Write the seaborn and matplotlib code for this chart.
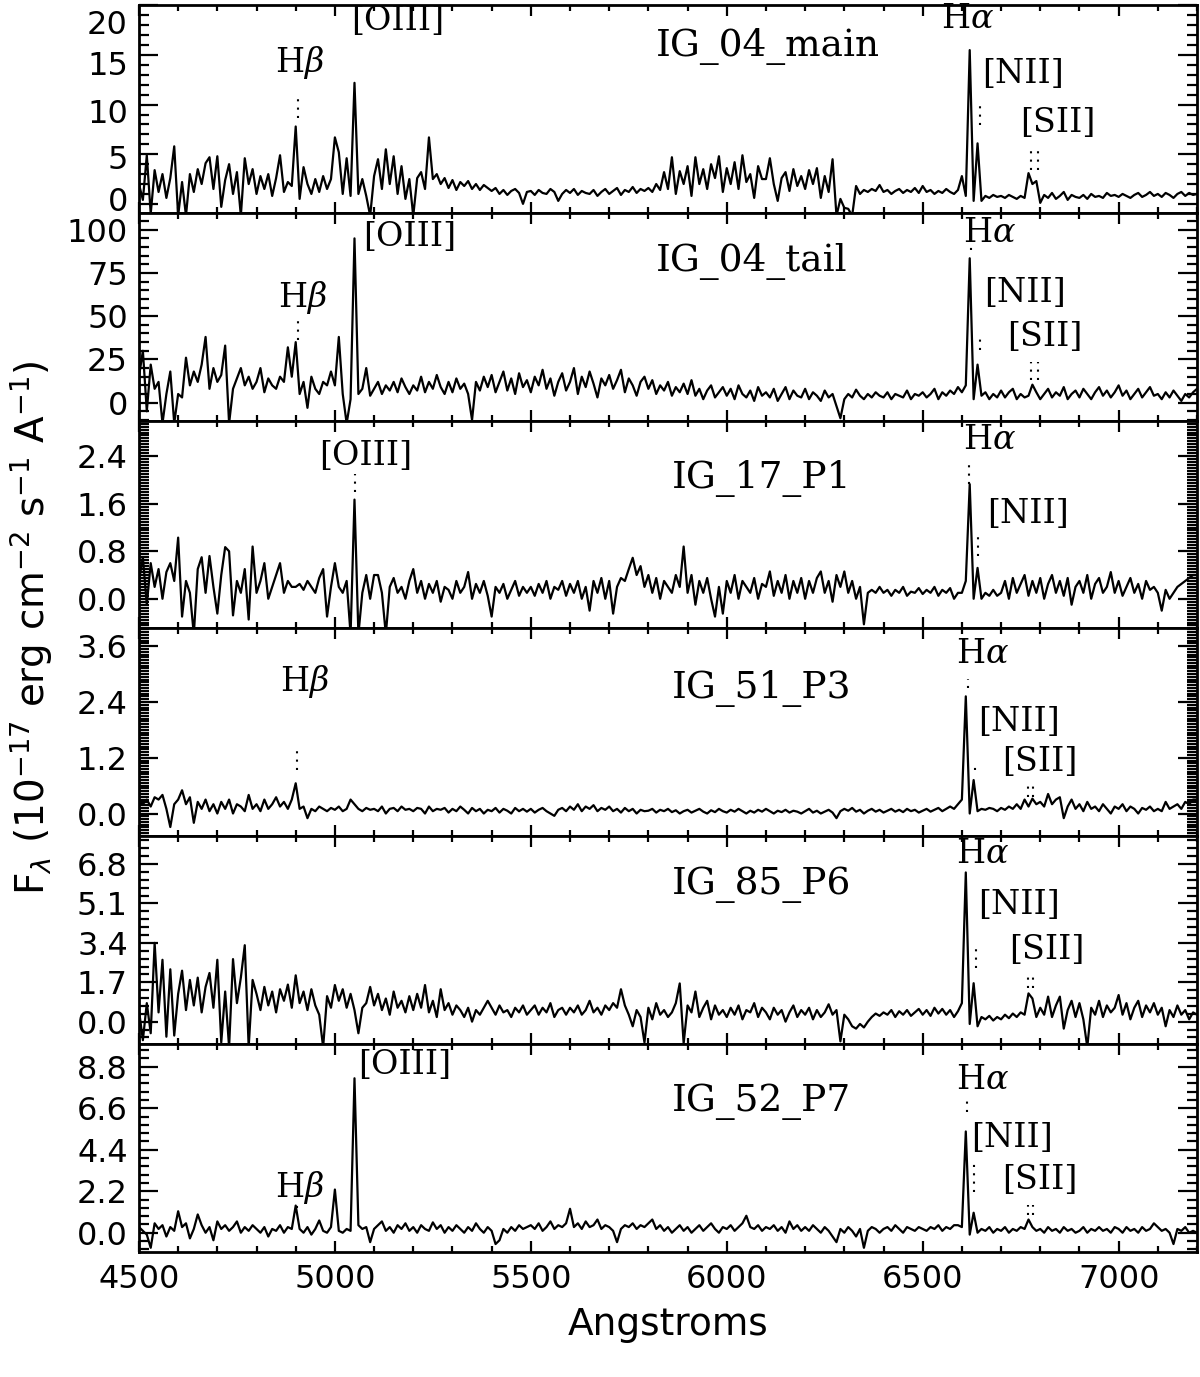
import numpy as np
import pandas as pd
import matplotlib
matplotlib.use("Agg")
import matplotlib.pyplot as plt
import matplotlib.transforms as mtransforms
import seaborn as sns
import matplotlib.ticker as ticker

# grille en longueur d'onde (Angstroms), un point tous les 10 A
wave = np.arange(4500, 7201, 10)

flux_ig04_main = [
    2.0, 0.4, 4.9, -1.0, 3.4, 1.2, 3.0, 0.6, 2.6, 5.8,      # 4500
    -1.2, 2.2, -1.2, 3.0, 1.2, 3.5, 2.0, 4.1, 4.7, 1.5,     # 4600
    4.8, -0.3, 2.4, 4.0, 1.0, 3.2, -1.2, 4.6, 2.0, 3.5,     # 4700
    1.0, 2.8, 1.5, 3.0, 0.8, 2.6, 4.9, 1.2, 2.2, 1.8,       # 4800
    7.8, 0.5, 3.7, 2.0, 1.0, 2.5, 1.2, 2.8, 1.5, 2.5,       # 4900
    6.7, 5.2, 1.0, 4.6, 0.8, 12.2, 1.0, 2.5, 0.8, -1.2,     # 5000
    2.8, 4.5, 1.5, 5.5, 2.0, 4.8, 1.0, 3.8, 0.5, 2.5,       # 5100
    -1.2, 2.6, 3.2, 1.5, 6.7, 2.5, 3.0, 2.0, 2.6, 1.6,      # 5200
    2.4, 1.4, 2.2, 1.8, 2.3, 1.5, 2.0, 1.4, 1.9, 1.6,       # 5300
    1.3, 1.6, 1.0, 1.4, 0.9, 1.3, 1.5, 1.1, 0.0, 1.2,       # 5400
    1.3, 0.9, 1.4, 1.1, 1.0, 1.5, 1.2, 0.3, 1.0, 1.4,       # 5500
    1.1, 1.5, 0.9, 1.3, 1.1, 1.0, 1.4, 0.8, 1.2, 1.5,       # 5600
    1.0, 1.3, 1.6, 0.9, 1.4, 1.2, 1.7, 1.1, 1.5, 1.3,       # 5700
    1.6, 1.2, 2.0, 1.4, 3.2, 1.5, 4.7, 1.0, 3.3, 2.0,       # 5800
    3.8, 0.8, 4.7, 2.0, 3.5, 1.5, 4.0, 2.6, 4.8, 1.2,       # 5900
    3.6, 2.0, 4.2, 1.5, 4.9, 2.2, 3.0, 0.6, 3.8, 2.5,       # 6000
    2.5, 4.6, 2.0, 0.3, 2.6, 3.2, 1.3, 3.5, 1.8, 2.8,       # 6100
    1.5, 3.4, 2.0, 3.6, 0.6, 2.8, 1.2, 4.5, -1.2, 0.5,      # 6200
    -0.4, -0.5, -1.2, 1.8, 1.0, 1.4, 1.2, 1.5, 1.3, 1.9,    # 6300
    1.2, 1.4, 1.0, 1.3, 1.5, 1.1, 1.4, 1.2, 1.6, 1.1,       # 6400
    1.8, 1.2, 1.4, 1.0, 1.3, 1.1, 1.5, 1.2, 1.0, 1.4,       # 6500
    2.8, 0.8, 15.5, 0.3, 6.1, 0.3, 0.8, 0.6, 0.9, 0.7,      # 6600
    0.8, 0.6, 0.9, 0.7, 0.5, 0.8, 0.6, 3.1, 2.0, 2.3,       # 6700
    0.1, 0.9, 0.6, 1.1, 0.5, 0.8, 1.2, 0.4, 0.9, 0.7,       # 6800
    0.6, 0.9, 0.5, 1.0, 0.7, 0.8, 0.6, 1.1, 0.8, 0.9,       # 6900
    0.7, 1.0, 0.8, 0.6, 0.9, 1.1, 0.7, 0.9, 1.2, 0.8,       # 7000
    1.0, 0.7, 1.1, 0.9, 0.6, 1.0, 1.2, 0.8, 1.1, 0.9,       # 7100
    1.0,
]

flux_ig04_tail = [
    15, 30, -5, 22, 8, 12, -12, 5, 18, -12,                 # 4500
    5, 3, 26, 10, 18, 12, 22, 38, 8, 20,                    # 4600
    12, 16, 33, -12, 8, 14, 20, 10, 15, 8,                  # 4700
    12, 20, 6, 14, 10, 8, 15, 12, 32, 15,                   # 4800
    35, 5, 12, -3, 15, 8, 5, 12, 10, 18,                    # 4900
    10, 38, 5, -12, 2, 95, 5, 8, 20, 4,                     # 5000
    8, 12, 5, 10, 7, 12, 6, 14, 9, 5,                       # 5100
    10, 7, 15, 6, 12, 8, 16, 9, 5, 12,                      # 5200
    6, 14, 8, 11, 5, -10, 12, 7, 15, 9,                     # 5300
    16, 6, 12, 18, 7, 14, 5, 17, 9, 13,                     # 5400
    6, 15, 10, 19, 8, 14, 4, 12, 17, 7,                     # 5500
    12, 20, 5, 15, 9, 18, 11, 3, 14, 10,                    # 5600
    16, 8, 13, 19, 6, 14, 10, 4, 12, 15,                    # 5700
    8, 13, 5, 10, 7, 12, 4, 9, 6, 11,                       # 5800
    5, 13, 4, 8, 2, 7, 10, 3, 6, 9,                         # 5900
    4, 8, 2, 10, 5, 3, 7, 1, 9, 4,                          # 6000
    6, 3, 8, 1, 5, 9, 2, 7, 4, 3,                           # 6100
    8, 2, 6, 4, 1, 7, 3, 5, -2, -9,                         # 6200
    2, 5, 3, 7.5, 4, 2, 5, 3, 6, 4,                         # 6300
    3, 6, 2, 5, 4, 3, 7, 2, 5, 4,                           # 6400
    6, 3, 5, 8, 2, 6, 4, 7, 5, 9,                           # 6500
    6, 10, 83.5, 2, 22, 4, 6, 2, 5, 3,                      # 6600
    7, 3, 6, 8, 2, 5, 3, 4, 10.4, 6,                        # 6700
    2, 5, 8, 3, 6, 4, 9, 2, 5, 7,                           # 6800
    3, 8, 5, 2, 6, 9, 4, 7, 3, 6,                           # 6900
    10, 4, 7, 2, 5, 8, 3, 6, 9, 4,                          # 7000
    5, 2, 6, 3, 7, 4, 1, 5, 3, 6,                           # 7100
    8,
]

flux_ig17_p1 = [
    0.3, 0.7, -0.1, 0.6, 0.2, 0.5, 0.0, 0.45, 0.6, 0.3,          # 4500
    1.03, -0.3, 0.3, 0.1, -0.6, 0.5, 0.7, 0.1, 0.72, 0.2,        # 4600
    -0.25, 0.4, 0.87, 0.8, -0.28, 0.3, 0.1, 0.5, -0.35, 0.88,    # 4700
    0.1, 0.3, 0.6, 0.0, 0.2, 0.4, 0.6, 0.1, 0.3, 0.2,            # 4800
    0.2, 0.25, 0.15, 0.3, 0.2, 0.1, 0.35, 0.5, -0.3, 0.2,        # 4900
    0.6, 0.2, 0.1, 0.3, -0.6, 1.67, -0.6, 0.1, 0.4, 0.0,         # 5000
    0.4, 0.4, 0.1, -0.6, 0.2, 0.35, 0.1, 0.2, 0.0, 0.3,          # 5100
    0.5, 0.1, 0.3, 0.0, 0.25, 0.1, 0.3, -0.05, 0.2, 0.15,        # 5200
    0.0, 0.3, 0.1, 0.2, 0.45, 0.0, 0.25, 0.1, 0.3, 0.05,         # 5300
    -0.3, 0.2, 0.1, 0.25, 0.0, 0.15, 0.3, 0.05, 0.2, 0.1,        # 5400
    0.2, 0.05, 0.25, 0.1, 0.3, 0.0, 0.2, 0.15, 0.3, 0.05,        # 5500
    0.25, 0.1, 0.3, 0.0, 0.2, -0.2, 0.3, 0.1, 0.35, 0.0,         # 5600
    0.3, -0.25, 0.2, 0.35, 0.3, 0.5, 0.69, 0.4, 0.55, 0.2,       # 5700
    0.4, 0.1, 0.35, 0.0, 0.3, 0.2, 0.1, 0.4, 0.2, 0.88,          # 5800
    0.1, 0.4, -0.1, 0.3, 0.1, 0.35, 0.0, -0.3, 0.2, -0.25,       # 5900
    0.3, 0.1, 0.4, 0.0, 0.3, 0.2, 0.1, 0.35, 0.0, 0.25,          # 6000
    0.2, 0.46, 0.05, 0.3, 0.1, 0.4, 0.0, 0.3, 0.1, 0.35,         # 6100
    0.0, 0.3, 0.1, 0.35, 0.46, 0.1, 0.3, -0.05, 0.4, 0.2,        # 6200
    0.46, 0.1, 0.3, 0.0, 0.2, -0.43, 0.1, 0.15, 0.1, 0.2,        # 6300
    0.1, 0.15, 0.05, 0.15, 0.1, 0.2, 0.05, 0.12, 0.1, 0.18,      # 6400
    0.08, 0.15, 0.1, 0.2, 0.05, 0.15, 0.1, 0.18, 0.0, 0.1,       # 6500
    0.1, 0.3, 1.93, 0.0, 0.52, 0.0, 0.1, 0.05, 0.15, 0.05,       # 6600
    0.1, 0.3, 0.0, 0.35, 0.1, 0.25, 0.4, 0.05, 0.3, 0.1,         # 6700
    0.35, 0.0, 0.25, 0.4, 0.1, 0.3, 0.05, 0.35, -0.1, 0.2,       # 6800
    0.3, 0.1, 0.4, 0.0, 0.25, 0.35, 0.1, 0.2, 0.45, 0.1,         # 6900
    0.3, 0.05, 0.2, 0.35, 0.1, 0.25, 0.0, 0.3, 0.15, 0.2,        # 7000
    0.1, -0.2, 0.15, 0.0, 0.1, 0.2, 0.25, 0.3, 0.35, 0.4,        # 7100
    0.4,
]

flux_ig51_p3 = [
    0.25, 0.2, 0.3, 0.15, 0.35, 0.3, 0.4, 0.1, -0.29, 0.2,       # 4500
    0.3, 0.5, 0.2, 0.35, -0.2, 0.25, 0.1, 0.3, 0.05, 0.2,        # 4600
    0.0, 0.25, 0.1, 0.3, 0.0, 0.2, 0.15, 0.05, 0.4, 0.1,         # 4700
    0.2, 0.05, 0.3, 0.1, 0.2, 0.35, 0.15, 0.25, 0.1, 0.3,        # 4800
    0.65, 0.1, 0.15, -0.1, 0.1, 0.05, 0.15, 0.1, 0.05, 0.12,     # 4900
    0.08, 0.15, 0.05, 0.1, 0.3, 0.2, 0.1, 0.05, 0.12, 0.08,      # 5000
    0.1, 0.05, 0.15, 0.0, 0.1, 0.12, 0.05, 0.15, 0.08, 0.1,      # 5100
    0.05, 0.12, 0.1, 0.0, 0.15, 0.05, 0.1, 0.08, 0.12, 0.02,     # 5200
    0.1, 0.05, 0.15, 0.08, 0.0, 0.12, 0.05, 0.1, 0.0, 0.08,      # 5300
    0.05, 0.12, 0.02, 0.1, 0.06, 0.0, 0.12, 0.05, 0.1, 0.04,     # 5400
    0.1, 0.02, 0.08, 0.12, 0.05, 0.0, -0.05, 0.08, 0.12, 0.05,   # 5500
    0.15, 0.08, 0.2, 0.05, 0.15, 0.1, 0.18, 0.05, 0.12, 0.08,    # 5600
    0.15, 0.05, 0.1, 0.02, 0.12, 0.05, 0.1, 0.0, 0.08, 0.05,     # 5700
    0.06, 0.1, 0.02, 0.08, 0.05, 0.1, 0.03, 0.07, 0.0, 0.05,     # 5800
    0.08, 0.02, 0.06, 0.1, 0.04, 0.0, 0.07, 0.03, 0.1, 0.05,     # 5900
    0.02, 0.08, 0.04, 0.1, 0.05, 0.0, 0.06, 0.02, 0.08, 0.04,    # 6000
    0.1, 0.05, 0.0, 0.06, 0.03, 0.08, 0.02, 0.06, 0.04, 0.0,     # 6100
    0.05, 0.1, 0.02, 0.06, 0.0, 0.04, 0.08, 0.02, -0.1, 0.05,    # 6200
    0.1, 0.06, 0.12, 0.04, 0.08, 0.0, 0.06, 0.1, 0.04, 0.08,     # 6300
    0.02, 0.06, 0.1, 0.04, 0.08, 0.03, 0.1, 0.05, 0.08, 0.02,    # 6400
    0.06, 0.1, 0.04, 0.08, 0.12, 0.05, 0.1, 0.15, 0.1, 0.2,      # 6500
    0.3, 2.52, 0.0, 0.72, 0.05, 0.1, 0.08, 0.12, 0.1, 0.05,      # 6600
    0.12, 0.08, 0.15, 0.1, 0.2, 0.1, 0.3, 0.15, 0.32, 0.2,       # 6700
    0.25, 0.15, 0.42, 0.2, 0.3, 0.35, -0.1, 0.15, 0.3, 0.1,      # 6800
    0.2, 0.05, 0.25, 0.1, 0.15, 0.05, 0.2, 0.1, 0.0, 0.15,       # 6900
    0.1, 0.2, 0.05, 0.15, 0.1, 0.0, 0.12, 0.08, 0.15, 0.05,      # 7000
    0.1, 0.05, 0.25, 0.1, 0.15, 0.2, 0.1, 0.25, 0.2, 0.3,        # 7100
    0.3,
]

flux_ig85_p6 = [
    0.5, -0.8, 0.8, -0.5, 3.4, 0.4, 2.67, -0.65, 2.26, -0.6,     # 4500
    1.2, 2.2, 0.5, 1.8, 0.7, 1.9, 0.4, 1.5, 2.1, 0.6,            # 4600
    2.67, -0.9, 1.3, -1.1, 2.7, 0.8, 1.9, 3.3, -1.1, 1.8,        # 4700
    1.2, 0.5, 1.5, 0.7, 1.3, 0.4, 1.4, 0.9, 1.6, 0.6,            # 4800
    2.0, 0.8, 1.3, 0.5, 1.4, 0.7, 0.3, -1.1, 1.1, 0.6,           # 4900
    1.58, 0.9, 1.4, 0.6, 1.2, 0.5, -0.5, 0.6, 0.8, 1.5,          # 5000
    0.7, 1.2, 0.5, 1.0, 0.3, 1.3, 0.6, 0.9, 0.4, 1.1,            # 5100
    0.5, 1.2, 0.6, 1.58, 0.4, 0.9, 0.2, 1.4, 0.5, 0.8,           # 5200
    0.3, 0.7, 0.5, 0.2, 0.6, 0.0, 0.5, 0.3, 0.6, 0.9,            # 5300
    0.6, 0.3, 0.7, 0.4, 0.5, 0.2, 0.6, 0.4, 0.7, 0.3,            # 5400
    0.5, 0.7, 0.3, 0.6, 0.4, 0.8, 0.2, 0.5, 0.6, 0.3,            # 5500
    0.6, 0.4, 0.7, 0.3, 0.5, 0.9, 0.4, 0.6, 0.3, 0.7,            # 5600
    0.5, 0.8, 0.6, 1.4, 0.7, 0.3, -0.2, 0.5, 0.2, -0.9,          # 5700
    0.6, 0.1, 0.8, 0.3, 0.5, 0.2, 0.4, 0.8, 1.65, -0.94,         # 5800
    0.7, 0.4, 1.3, 0.2, 0.6, 0.9, 0.1, 0.7, 0.3, 0.5,            # 5900
    0.2, 0.6, 0.3, 0.7, 0.1, 0.5, 0.4, 0.8, 0.2, 0.6,            # 6000
    0.4, 0.1, 0.6, 0.3, 0.5, 0.0, 0.4, 0.7, 0.2, 0.5,            # 6100
    0.3, 0.6, 0.1, 0.5, 0.2, 0.4, 0.75, 0.3, 0.5, -0.85,         # 6200
    0.3, 0.1, -0.2, -0.3, -0.1, -0.25, 0.0, 0.2, 0.35, 0.25,     # 6300
    0.4, 0.3, 0.5, 0.2, 0.45, 0.3, 0.5, 0.25, 0.4, 0.55,         # 6400
    0.3, 0.5, 0.25, 0.6, 0.35, 0.55, 0.3, 0.5, 0.2, 0.45,        # 6500
    0.8, 6.44, -0.1, 1.66, -0.2, 0.2, 0.1, 0.25, 0.05, 0.2,      # 6600
    0.1, 0.3, 0.15, 0.35, 0.2, 0.4, 0.3, 1.22, 1.0, 0.2,         # 6700
    0.6, 0.3, 1.08, 0.2, 0.7, 1.08, -0.3, 0.5, 0.9, 0.2,         # 6800
    0.8, 0.1, -1.1, 0.6, 0.3, 0.9, 0.2, 0.7, 0.4, 0.6,           # 6900
    1.15, 0.3, 0.8, 0.1, 0.6, 0.9, 0.2, 0.7, 0.4, 0.8,           # 7000
    0.3, 0.6, -0.2, 0.5, 0.2, 0.7, 0.3, 0.5, 0.1, 0.4,           # 7100
    0.3,
]

flux_ig52_p7 = [
    0.3, 0.1, -0.1, -0.8, 0.5, 0.2, 0.4, -0.2, 0.3, 0.1,         # 4500
    1.14, 0.3, 0.5, -0.3, 0.2, 0.97, 0.4, 0.0, 0.3, -0.4,        # 4600
    0.6, 0.2, 0.4, 0.1, 0.3, 0.6, 0.0, 0.3, 0.1, 0.4,            # 4700
    0.2, 0.0, 0.3, -0.2, 0.2, 0.1, 0.4, 0.0, 0.3, 0.2,           # 4800
    1.44, 0.2, 0.0, 0.3, -0.1, 0.2, 0.65, 0.1, 0.0, 0.3,         # 4900
    2.29, 0.1, 0.0, 0.2, 0.1, 8.19, 0.4, 0.2, 0.3, -0.5,         # 5000
    0.2, 0.4, 0.6, 0.1, 0.3, 0.0, 0.4, 0.2, 0.5, 0.1,            # 5100
    0.3, 0.0, 0.4, 0.2, 0.1, 0.55, 0.2, 0.4, 0.0, 0.3,           # 5200
    0.1, 0.4, 0.2, 0.0, 0.3, 0.1, 0.5, 0.2, 0.0, 0.3,            # 5300
    0.1, -0.6, -0.4, 0.2, 0.0, 0.3, 0.1, 0.4, 0.2, 0.3,          # 5400
    0.4, 0.2, 0.5, 0.1, 0.3, 0.6, 0.2, 0.4, 0.3, 0.5,            # 5500
    1.27, 0.3, 0.5, 0.2, 0.6, 0.3, 0.4, 0.7, 0.2, 0.4,           # 5600
    0.3, 0.1, -0.5, 0.2, 0.4, 0.3, 0.5, 0.2, 0.4, 0.3,           # 5700
    0.5, 0.7, 0.2, 0.4, 0.1, 0.3, 0.0, 0.2, 0.4, 0.1,            # 5800
    0.3, 0.0, 0.2, 0.4, 0.1, 0.3, 0.5, 0.2, 0.0, 0.3,            # 5900
    0.2, 0.4, 0.1, 0.3, 0.5, 0.9, 0.3, 0.2, 0.4, 0.1,            # 6000
    0.3, 0.2, 0.4, 0.1, 0.3, 0.0, 0.6, 0.2, 0.4, 0.1,            # 6100
    0.3, 0.1, 0.4, 0.2, 0.0, 0.3, 0.1, -0.2, -0.5, 0.2,          # 6200
    0.0, 0.3, 0.1, -0.2, 0.2, -0.8, 0.1, 0.3, 0.2, 0.0,          # 6300
    0.2, 0.3, 0.1, 0.4, 0.2, 0.0, 0.3, 0.2, 0.1, 0.3,            # 6400
    0.2, 0.1, 0.3, 0.2, 0.4, 0.1, 0.3, 0.2, 0.4, 0.4,            # 6500
    0.3, 5.37, -0.1, 1.06, 0.0, 0.2, 0.1, 0.3, 0.0, 0.2,         # 6600
    0.1, 0.3, 0.0, 0.2, 0.1, 0.3, 0.2, 0.7, 0.3, 0.1,            # 6700
    0.2, 0.0, 0.3, 0.1, 0.2, 0.0, 0.3, 0.1, 0.2, 0.0,            # 6800
    0.1, 0.3, 0.0, 0.2, 0.1, 0.3, 0.1, 0.2, 0.0, 0.3,            # 6900
    0.2, 0.0, 0.3, 0.1, 0.2, 0.0, 0.3, 0.1, 0.2, 0.5,            # 7000
    0.3, 0.1, 0.2, 0.0, -0.6, 0.2, 0.1, 0.3, 0.0, 0.1,           # 7100
    0.0,
]

names = ["IG_04_main", "IG_04_tail", "IG_17_P1", "IG_51_P3", "IG_85_P6", "IG_52_P7"]
spectra = [flux_ig04_main, flux_ig04_tail, flux_ig17_p1,
           flux_ig51_p3, flux_ig85_p6, flux_ig52_p7]

# limites et graduations de chaque panneau
ylims = [(-0.9, 20.05), (-10.4, 109.8), (-0.5, 3.0),
         (-0.49, 3.98), (-0.97, 8.0), (-1.02, 10.0)]
major_steps = [5, 25, 0.8, 1.2, 1.7, 2.2]
minor_div = [5, 5, 16, 20, 5, 5]
tick_fmt = ["%d", "%d", "%.1f", "%.1f", "%.1f", "%.1f"]

# etiquettes des raies : (texte, x, y) et traits pointilles : (x, y0, y1)
line_labels = [
    [(r"H$\beta$", 4911, 14.2), ("[OIII]", 5161, 18.4), (r"H$\alpha$", 6615, 18.6),
     ("[NII]", 6755, 13.1), ("[SII]", 6844, 8.2)],
    [("[OIII]", 5191, 95.8), (r"H$\beta$", 4918, 60.6), (r"H$\alpha$", 6671, 98.1),
     ("[NII]", 6760, 63.5), ("[SII]", 6811, 38.1)],
    [("[OIII]", 5079, 2.41), (r"H$\alpha$", 6671, 2.68), ("[NII]", 6768, 1.43)],
    [(r"H$\beta$", 4923, 2.84), (r"H$\alpha$", 6653, 3.44), ("[NII]", 6747, 1.97),
     ("[SII]", 6798, 1.11)],
    [(r"H$\alpha$", 6653, 7.22), ("[NII]", 6747, 5.05), ("[SII]", 6816, 3.10)],
    [("[OIII]", 5179, 8.89), (r"H$\beta$", 4911, 2.42), (r"H$\alpha$", 6653, 8.10),
     ("[NII]", 6727, 5.02), ("[SII]", 6798, 2.80)],
]
dotted = [
    [(4906, 8.7, 11.1), (6645, 7.9, 9.9), (6776, 3.4, 5.9), (6793, 3.4, 5.9)],
    [(4906, 36, 49), (6622, 88.5, 91.5), (6645, 30.6, 39), (6776, 13.3, 23.7), (6793, 13.3, 23.7)],
    [(5051, 1.8, 2.1), (6617, 1.93, 2.3), (6640, 0.72, 1.09)],
    [(4903, 0.94, 1.36), (6615, 2.7, 2.9), (6633, 0.93, 1.1), (6768, 0.35, 0.59), (6781, 0.35, 0.59)],
    [(6636, 2.3, 3.3), (6768, 1.46, 2.15), (6781, 1.46, 2.15)],
    [(4903, 1.3, 1.73), (6613, 6.4, 7.0), (6630, 2.15, 3.7), (6768, 0.94, 1.46), (6781, 0.94, 1.46)],
]
name_pos = [(6105, 15.9), (6064, 81.4), (6089, 2.02), (6089, 2.68), (6089, 5.92), (6089, 6.93)]

# decalage vertical (points) des etiquettes du premier panneau
top_label_shift = {0: -3.5, 5: 2.2, 10: 4.3, 15: 5.8, 20: 12.0}

sns.set_style("ticks")
plt.rcParams["font.family"] = ["DejaVu Sans"]
plt.rcParams["text.color"] = "black"
plt.rcParams["axes.edgecolor"] = "black"
plt.rcParams["xtick.color"] = "black"
plt.rcParams["ytick.color"] = "black"
plt.rcParams["axes.labelcolor"] = "black"

fig, axes = plt.subplots(6, 1, figsize=(12, 13.77), dpi=100, sharex=True)
fig.subplots_adjust(left=0.1158, right=0.9975, top=0.9964, bottom=0.0908, hspace=0)

for i, ax in enumerate(axes):
    df = pd.DataFrame({"wave": wave, "flux": spectra[i]})
    sns.lineplot(data=df, x="wave", y="flux", ax=ax, color="black", lw=1.6)
    ax.set_xlim(4500, 7200)
    ax.set_ylim(*ylims[i])
    ax.set_xlabel("")
    ax.set_ylabel("")

    ax.yaxis.set_major_locator(ticker.MultipleLocator(major_steps[i]))
    ax.yaxis.set_minor_locator(ticker.AutoMinorLocator(minor_div[i]))
    ax.yaxis.set_major_formatter(ticker.FormatStrFormatter(tick_fmt[i]))
    ax.xaxis.set_major_locator(ticker.MultipleLocator(500))
    ax.xaxis.set_minor_locator(ticker.MultipleLocator(100))
    ax.tick_params(which="both", direction="in", top=True, right=True,
                   width=1.6, labelsize=23)
    ax.tick_params(axis="y", which="major", length=14, pad=8)
    ax.tick_params(axis="y", which="minor", length=7)
    ax.tick_params(axis="x", which="major", length=8, pad=9)
    ax.tick_params(axis="x", which="minor", length=4.5)
    for s in ax.spines.values():
        s.set_linewidth(2.0)

    for wl, y0, y1 in dotted[i]:
        ax.plot([wl, wl], [y0, y1], color="black", lw=1.5, ls=(0, (1, 3)))
    for txt, x, y in line_labels[i]:
        ax.text(x, y, txt, ha="center", va="center", fontsize=24,
                family="DejaVu Serif", math_fontfamily="dejavuserif")
    ax.text(name_pos[i][0], name_pos[i][1], names[i], ha="center", va="center",
            fontsize=27, family="DejaVu Serif")

axes[-1].set_xlabel("Angstroms", fontsize=27, labelpad=8)
fig.text(0.026, 0.544,
         r"F$_\lambda$ (10$^{\mathregular{-17}}$ erg cm$^{\mathregular{-2}}$ "
         r"s$^{\mathregular{-1}}$ A$^{\mathregular{-1}}$)",
         rotation=90, ha="center", va="center", fontsize=28,
         math_fontfamily="dejavusans")

fig.canvas.draw()
for tk in axes[0].yaxis.get_major_ticks():
    v = int(round(tk.get_loc()))
    if v in top_label_shift:
        off = mtransforms.ScaledTranslation(0, -top_label_shift[v] / 72, fig.dpi_scale_trans)
        tk.label1.set_transform(tk.label1.get_transform() + off)

plt.savefig("out.png", dpi=100)
